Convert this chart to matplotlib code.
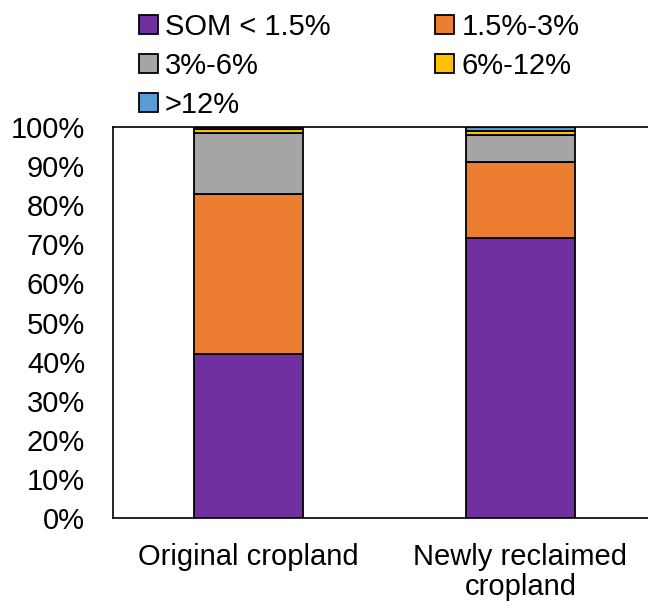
import matplotlib
matplotlib.use("Agg")
import matplotlib.pyplot as plt
import numpy as np

plt.rcParams["font.family"] = ["Liberation Sans", "DejaVu Sans"]

categories = ["Original cropland", "Newly reclaimed\ncropland"]
labels = ["SOM < 1.5%", "1.5%-3%", "3%-6%", "6%-12%", ">12%"]
colors = ["#7030A0", "#ED7D31", "#A5A5A5", "#FFC000", "#5B9BD5"]
som_lt_1_5 = [41.9, 71.6]
som_1_5_3 = [41.0, 19.4]
som_3_6 = [15.6, 7.0]
som_6_12 = [1.1, 1.0]
som_gt_12 = [0.4, 1.0]
series = [som_lt_1_5, som_1_5_3, som_3_6, som_6_12, som_gt_12]

fig = plt.figure(figsize=(6.48, 6.07), dpi=100)
ax = fig.add_axes([113 / 648, (607 - 518) / 607, (648 - 113) / 648, (518 - 127) / 607])

x = np.arange(len(categories))
bottom = np.zeros(len(categories))
handles = []
for vals, lab, col in zip(series, labels, colors):
    vals = np.array(vals)
    b = ax.bar(x, vals, 0.4, bottom=bottom, color=col, edgecolor="black",
               linewidth=1.3, label=lab)
    handles.append(b)
    bottom += vals

ax.set_xlim(-0.5, 1.47)
ax.set_ylim(0, 100)
ax.set_yticks(np.arange(0, 101, 10))
ax.set_yticklabels([f"{v}%" for v in range(0, 101, 10)])
ax.set_xticks(x)
ax.set_xticklabels(categories, linespacing=1.1)
ax.tick_params(axis="both", labelsize=21, length=0)
ax.tick_params(axis="x", pad=18)
ax.tick_params(axis="y", pad=20)
for s in ["left", "bottom", "top"]:
    ax.spines[s].set_linewidth(1.2)
    ax.spines[s].set_color("black")
ax.spines["right"].set_visible(False)

# row-major order for a 2-column legend
order = [0, 2, 4, 1, 3]
fig.legend(handles=[handles[i] for i in order], labels=[labels[i] for i in order],
           ncol=2, loc="upper left", bbox_to_anchor=(124 / 648, 1.003),
           frameon=False, fontsize=21,
           handlelength=0.65, handleheight=0.65, handletextpad=0.25,
           columnspacing=3.6, labelspacing=0.38, borderaxespad=0.1)

fig.savefig("out.png", dpi=100)
